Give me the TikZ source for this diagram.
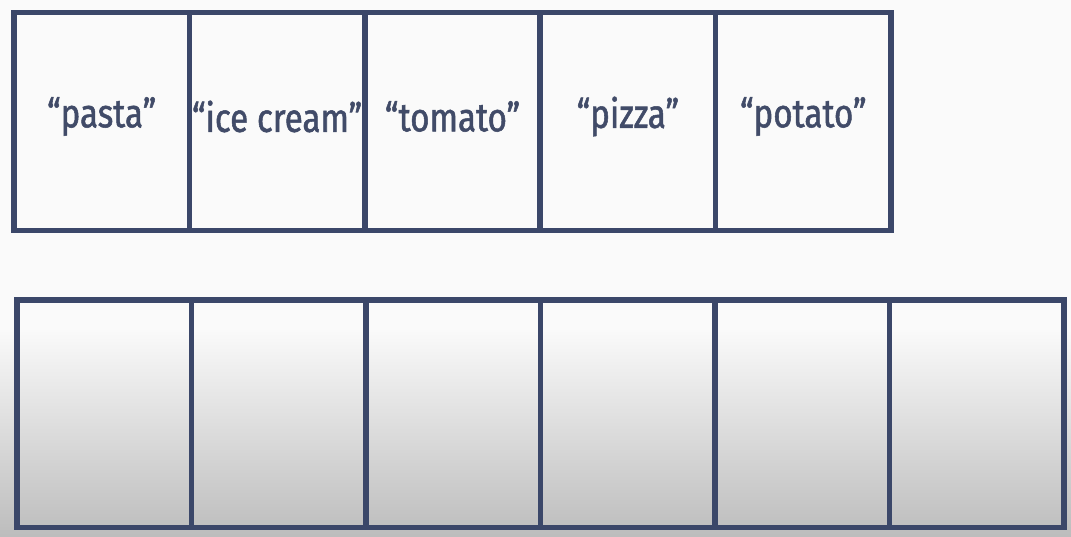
\documentclass[tikz,border=0pt]{standalone}
\usepackage{fontspec}
\setmainfont{Fira Sans}[FakeStretch=0.83, FakeBold=1.3]
\definecolor{boxnavy}{HTML}{3B4769}
\definecolor{wordnavy}{HTML}{414B68}
\begin{document}
\begin{tikzpicture}[x=1pt,y=1pt,
    cell/.style={draw=boxnavy, line width=5.5pt, outer sep=0pt, inner sep=0pt},
    topcell/.style={cell, minimum width=175.4pt, minimum height=218pt,
      font=\fontsize{40}{44}\selectfont, text=wordnavy},
    botcell/.style={cell, minimum width=174.5pt, minimum height=227.5pt}]
  % background, white fading to grey at the foot
  \useasboundingbox (0,0) rectangle (1071,536);
  \fill[white!98!black] (0,206) rectangle (1071,536);
  \shade[top color=white!98!black, bottom color=black!26] (0,0) rectangle (1071,206);
  % first row: the words
  \foreach \lbl [count=\i from 0] in {pasta, ice cream, tomato, pizza, potato}
    \node[topcell] (top\i) at ({14+175.4*(\i+0.5)}, 414.5)
      {\raisebox{5pt}[\height][\depth]{“\lbl”}};
  % second row: empty cells
  \foreach \i in {0,...,5}
    \node[botcell] (bot\i) at ({17+174.5*(\i+0.5)}, 122.25) {};
\end{tikzpicture}
\end{document}
